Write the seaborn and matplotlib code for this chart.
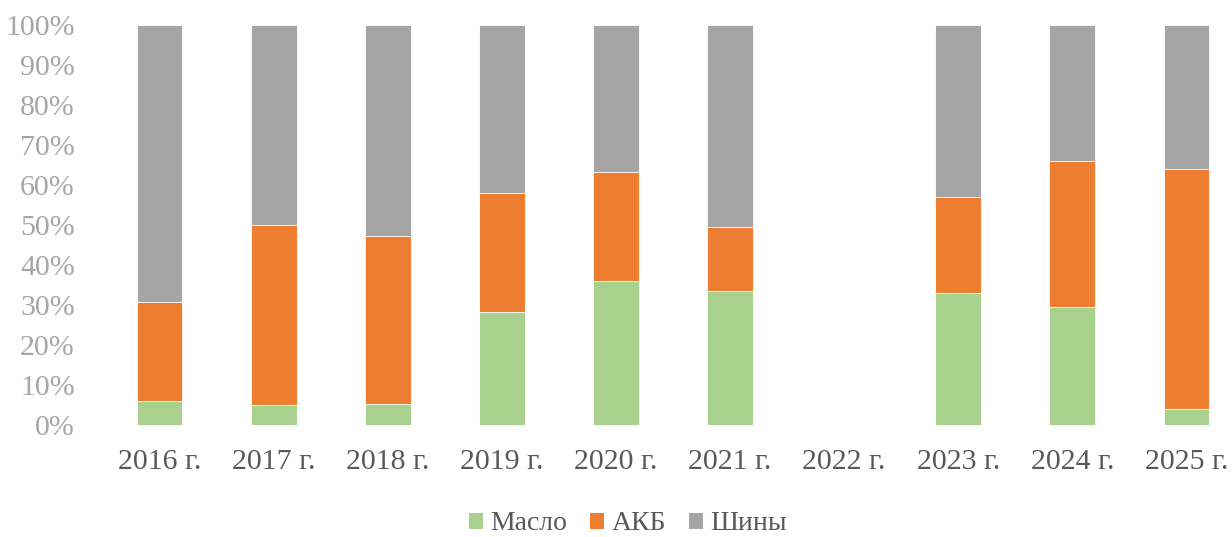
import numpy as np
import pandas as pd
import matplotlib
matplotlib.use("Agg")
import matplotlib.pyplot as plt
from matplotlib.patches import Patch
from matplotlib.ticker import PercentFormatter
import seaborn as sns

years = ["2016 г.", "2017 г.", "2018 г.", "2019 г.", "2020 г.",
         "2021 г.", "2022 г.", "2023 г.", "2024 г.", "2025 г."]
maslo = [6.0, 4.9, 5.3, 28.3, 36.0, 33.5, np.nan, 33.1, 29.4, 4.1]
akb = [24.8, 45.2, 42.0, 29.7, 27.2, 16.0, np.nan, 24.0, 36.6, 59.9]
shiny = [69.2, 49.9, 52.7, 42.0, 36.8, 50.5, np.nan, 42.9, 34.0, 36.0]

colors = {"Масло": "#A9D18E", "АКБ": "#ED7D31", "Шины": "#A5A5A5"}

df = pd.DataFrame({"year": years, "Масло": maslo, "АКБ": akb, "Шины": shiny})
df["top_akb"] = df["Масло"] + df["АКБ"]
df["top_shiny"] = df["top_akb"] + df["Шины"]

sns.set_style("white")
plt.rcParams["font.family"] = ["Liberation Serif", "DejaVu Serif"]

fig = plt.figure(figsize=(12.32, 5.37), dpi=100)
ax = fig.add_axes([102.6 / 1232, (537 - 425) / 537, 1 - 102.6 / 1232, 400 / 537])

for col, name in [("top_shiny", "Шины"), ("top_akb", "АКБ"), ("Масло", "Масло")]:
    sns.barplot(data=df, x="year", y=col, color=colors[name], width=0.4,
                saturation=1, edgecolor="white", linewidth=0.6, ax=ax)

ax.set_xlim(-0.5, 9.4)
ax.set_ylim(0, 100)
ax.set_yticks(np.arange(0, 101, 10))
ax.yaxis.set_major_formatter(PercentFormatter(decimals=0))
ax.set_xlabel("")
ax.set_ylabel("")
for s in ax.spines.values():
    s.set_visible(False)
ax.tick_params(axis="y", length=0, labelsize=21.5, labelcolor="#A6A6A6", pad=20)
ax.tick_params(axis="x", length=0, labelsize=21.5, labelcolor="#595959", pad=17)

handles = [Patch(facecolor=colors[n], edgecolor="none", label=n) for n in ["Масло", "АКБ", "Шины"]]
leg = fig.legend(handles=handles, loc="center", bbox_to_anchor=(628 / 1232, 1 - 524 / 537),
                 ncol=3, frameon=False, fontsize=20, handlelength=0.5, handleheight=0.5,
                 handletextpad=0.25, columnspacing=0.85)
for t in leg.get_texts():
    t.set_color("#595959")

fig.savefig("out.png", dpi=100)
